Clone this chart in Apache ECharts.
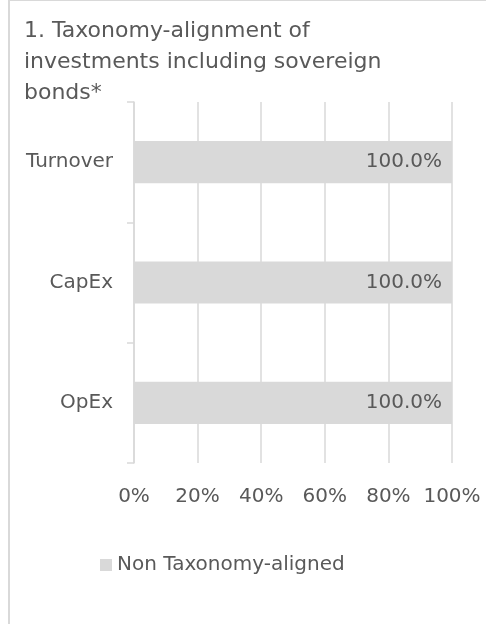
<!DOCTYPE html>
<html>
<head>
<meta charset="utf-8">
<script src="https://cdn.jsdelivr.net/npm/echarts@6/dist/echarts.min.js"></script>
<style>
html,body{margin:0;padding:0;background:#fff;}
#frame{position:absolute;left:8px;top:0;width:478px;height:624px;border-top:1px solid #d9d9d9;border-left:2px solid #d9d9d9;box-sizing:border-box;}
#chart{position:absolute;left:0;top:0;width:486px;height:624px;}
</style>
</head>
<body>
<div id="frame"></div>
<div id="chart"></div>
<script>
const titleText = "1. Taxonomy-alignment of\ninvestments including sovereign\nbonds*";
const categories = ["Turnover", "CapEx", "OpEx"];
const seriesName = "Non Taxonomy-aligned";
const nonAligned = [100.0, 100.0, 100.0];
const xTicks = [0, 20, 40, 60, 80, 100];

const FONT = "DejaVu Sans";
const TXT = "#595959";
const GRID = "#d9d9d9";

const chart = echarts.init(document.getElementById('chart'), null, {renderer: 'canvas'});
chart.setOption({
  backgroundColor: 'transparent',
  animation: false,
  title: {
    text: titleText,
    left: 19,
    top: 11,
    textStyle: {fontFamily: FONT, fontSize: 22, fontWeight: 'normal', color: TXT, lineHeight: 31}
  },
  legend: {
    data: [seriesName],
    left: 95,
    top: 550,
    itemWidth: 12,
    itemHeight: 12,
    icon: 'rect',
    textStyle: {fontFamily: FONT, fontSize: 20, color: TXT}
  },
  grid: {left: 134, right: 34, top: 102, bottom: 161, containLabel: false},
  xAxis: {
    type: 'value',
    min: xTicks[0],
    max: xTicks[xTicks.length - 1],
    interval: xTicks[1] - xTicks[0],
    axisLine: {show: false},
    axisTick: {show: false},
    splitLine: {show: true, lineStyle: {color: GRID, width: 1.5}},
    axisLabel: {
      formatter: v => v + '%',
      margin: 24,
      fontFamily: FONT, fontSize: 20, color: TXT
    }
  },
  yAxis: {
    type: 'category',
    data: categories,
    inverse: true,
    axisLine: {show: true, lineStyle: {color: GRID, width: 1.5}},
    axisTick: {show: true, length: 7, lineStyle: {color: GRID, width: 1.5}},
    axisLabel: {margin: 21, fontFamily: FONT, fontSize: 20, color: TXT}
  },
  series: [{
    name: seriesName,
    type: 'bar',
    data: nonAligned,
    barWidth: '35%',
    itemStyle: {color: '#d9d9d9'},
    label: {
      show: true,
      position: 'insideRight',
      distance: 10,
      formatter: p => p.value.toFixed(1) + '%',
      fontFamily: FONT, fontSize: 20, color: TXT
    }
  }]
});
</script>
</body>
</html>
